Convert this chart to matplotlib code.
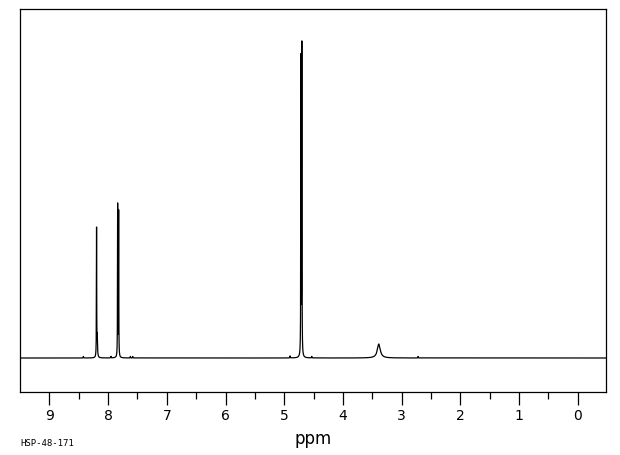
import numpy as np
import matplotlib
matplotlib.use('Agg')
import matplotlib.pyplot as plt

# peak list: position (ppm), height (px above baseline), half width (ppm)
peak_ppm = [8.196, 8.184, 7.837, 7.820, 4.700, 4.716, 3.389,
            8.42, 7.95, 7.62, 7.58, 4.90, 4.53, 2.72]
peak_height = [128, 20, 152, 145, 310, 297, 14,
               1.5, 1.5, 1.5, 1.5, 2.0, 1.5, 1.5]
peak_width = [0.0025, 0.005, 0.0025, 0.0025, 0.0025, 0.0025, 0.03,
              0.003, 0.003, 0.003, 0.003, 0.003, 0.003, 0.003]

major_ticks = [9, 8, 7, 6, 5, 4, 3, 2, 1, 0]
minor_ticks = [8.5, 7.5, 6.5, 5.5, 4.5, 3.5, 2.5, 1.5, 0.5]

x_left, x_right = 9.5, -0.48

ppm = np.arange(x_right, x_left, 0.0005)
intensity = np.zeros_like(ppm)
for c, h, w in zip(peak_ppm, peak_height, peak_width):
    intensity += h * w**2 / (w**2 + (ppm - c)**2)

fig = plt.figure(figsize=(6.2, 4.55), dpi=100)
ax = fig.add_axes([20 / 620, 63 / 455, 586 / 620, 383 / 455])

ax.plot(ppm, intensity, color='black', lw=0.9)
ax.set_xlim(x_left, x_right)
ax.set_ylim(-34, 349)

for s in ax.spines.values():
    s.set_linewidth(0.9)

ax.set_yticks([])
ax.set_xticks(major_ticks)
ax.set_xticklabels([str(t) for t in major_ticks])
ax.set_xticks(minor_ticks, minor=True)
ax.tick_params(axis='x', which='major', direction='out', length=9, width=0.9,
               labelsize=10, pad=3)
ax.tick_params(axis='x', which='minor', direction='out', length=5, width=0.9)

ax.set_xlabel('ppm', fontsize=12, labelpad=5)
fig.text(20 / 620, 1 - 443 / 455, 'HSP-48-171', fontsize=6.5, va='center',
         family='DejaVu Sans Mono')

fig.savefig('out.png', dpi=100)
